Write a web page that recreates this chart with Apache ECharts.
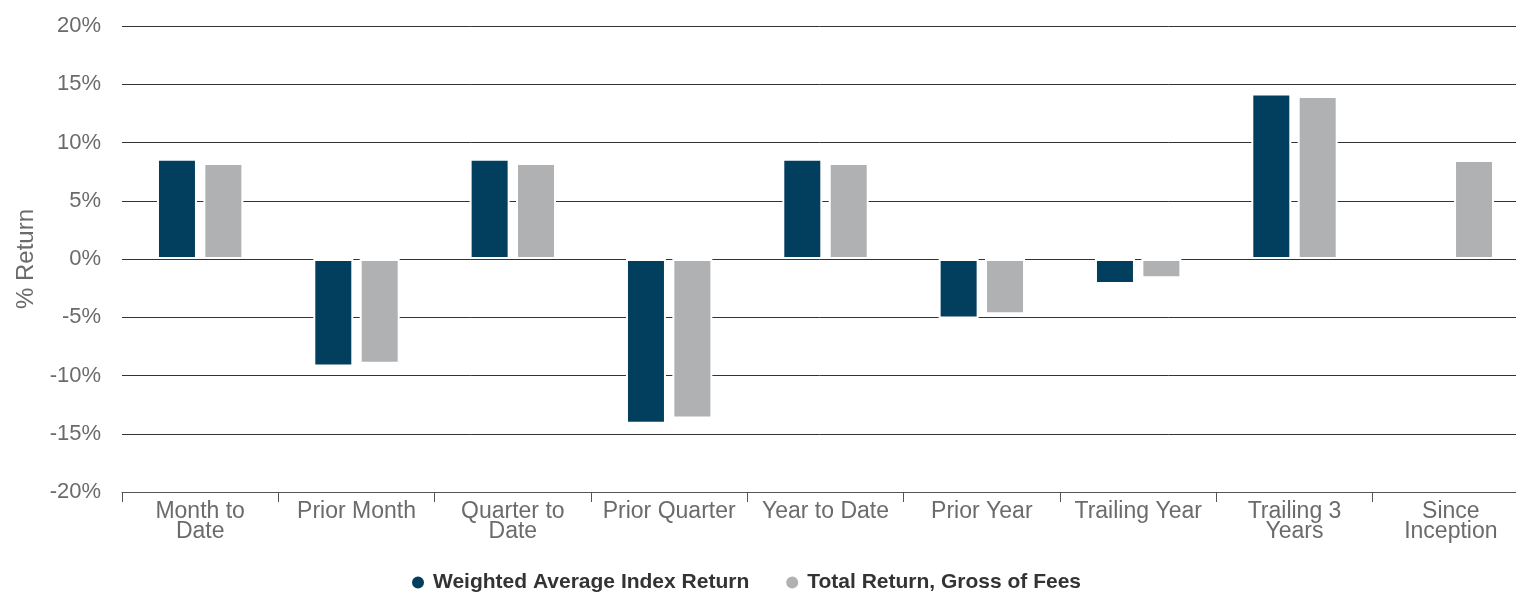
<!DOCTYPE html>
<html><head><meta charset="utf-8">
<script src="https://cdn.jsdelivr.net/npm/echarts@6/dist/echarts.min.js"></script>
<style>html,body{margin:0;padding:0;background:#fff;overflow:hidden}#c{width:1516px;height:594px}</style>
</head><body><div id="c"></div>
<script>
const categories = ['Month to\nDate','Prior Month','Quarter to\nDate','Prior Quarter','Year to Date','Prior Year','Trailing Year','Trailing 3\nYears','Since\nInception'];
const weightedIndex = [8.6, -9.22, 8.6, -14.15, 8.6, -5.1, -2.15, 14.2, null];
const totalGross = [8.25, -9.0, 8.25, -13.7, 8.25, -4.75, -1.66, 14.0, 8.5];
const seriesNames = ['Weighted Average Index Return','Total Return, Gross of Fees'];
const FONT = '"Liberation Sans", Arial, sans-serif';
const chart = echarts.init(document.getElementById('c'), null, {renderer:'canvas'});
chart.setOption({
  animation:false,
  textStyle:{fontFamily:FONT},
  grid:{left:122,right:-13,top:26,bottom:102,containLabel:false,outerBoundsMode:'none'},
  legend:{
    top:567,left:405,icon:'circle',itemWidth:14,itemHeight:14,itemGap:35,
    textStyle:{fontFamily:FONT,fontSize:21,fontWeight:'bold',color:'#333',padding:[0,0,0,3]},
    data:seriesNames
  },
  xAxis:{
    type:'category',data:categories,
    axisLine:{onZero:false,lineStyle:{color:'#555',width:1}},
    axisTick:{show:true,length:10,lineStyle:{color:'#555'}},
    axisLabel:{fontFamily:FONT,fontSize:23,color:'#6b6b6b',lineHeight:20,margin:10,interval:0}
  },
  yAxis:{
    type:'value',min:-20,max:20,interval:5,
    name:'% Return',nameLocation:'middle',nameGap:84,nameRotate:90,
    nameTextStyle:{fontFamily:FONT,fontSize:24,color:'#6b6b6b'},
    axisLine:{show:false},axisTick:{show:false},
    axisLabel:{formatter:'{value}%',fontFamily:FONT,fontSize:22,color:'#6b6b6b',margin:21},
    splitLine:{lineStyle:{color:'#333',width:1}}
  },
  series:[
    {name:seriesNames[0],type:'bar',data:weightedIndex,barWidth:40,barGap:'16%',
     itemStyle:{color:'#023f5f',borderColor:'#fff',borderWidth:2}},
    {name:seriesNames[1],type:'bar',data:totalGross,barWidth:40,
     itemStyle:{color:'#b0b1b3',borderColor:'#fff',borderWidth:2}}
  ]
});
</script></body></html>
